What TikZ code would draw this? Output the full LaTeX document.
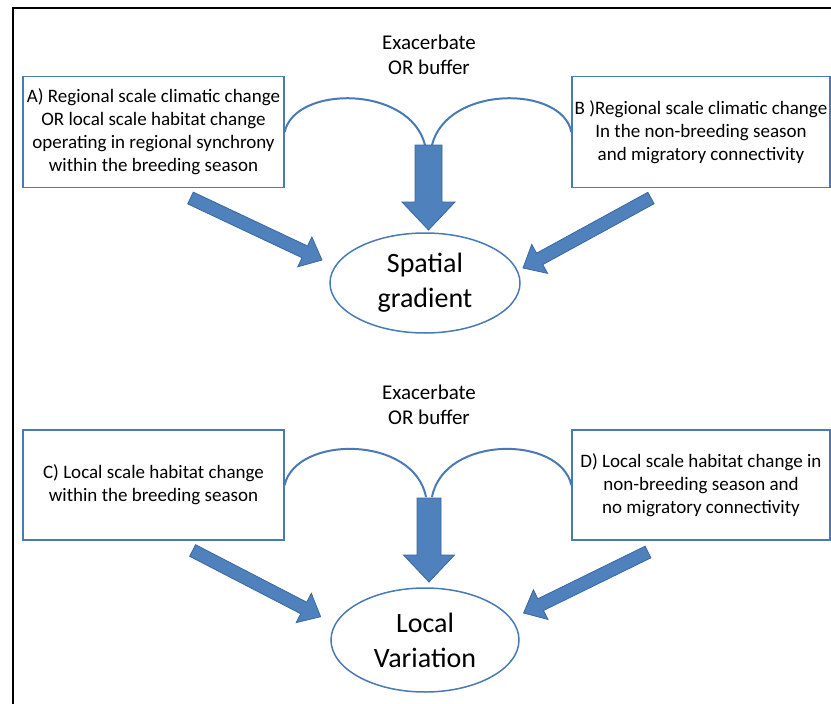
\documentclass[tikz,border=0pt]{standalone}
\usepackage{fontspec}
\setmainfont{Carlito}
\usetikzlibrary{calc,shapes.geometric}
\definecolor{bl}{HTML}{4F81BD}
\definecolor{bldark}{HTML}{3A67A3}
\definecolor{boxline}{HTML}{4A7AB5}
\newcommand\blockarr[5]{%
  \coordinate (hb) at ($(#2)!#5!(#1)$);
  \filldraw[barrow] ($(#1)!#3!90:(#2)$) -- ($(hb)!#3!90:(#2)$) -- ($(hb)!#4!90:(#2)$)
    -- (#2) -- ($(hb)!#4!-90:(#2)$) -- ($(hb)!#3!-90:(#2)$) -- ($(#1)!#3!-90:(#2)$) -- cycle;}
\begin{document}
\begin{tikzpicture}[x=1pt,y=-1pt,
  box/.style={draw=boxline, line width=1.3pt, minimum width=261pt, minimum height=111pt,
    align=center, font=\fontsize{19}{23}\selectfont, inner sep=0pt},
  ell/.style={ellipse, draw=boxline, line width=1.5pt, minimum width=190pt, minimum height=100pt,
    align=center, font=\fontsize{28}{35}\selectfont, inner sep=0pt},
  lbl/.style={align=center, font=\fontsize{21}{25}\selectfont},
  arcline/.style={draw=boxline, line width=2pt},
  barrow/.style={fill=bl, draw=bldark, line width=0.8pt, line join=miter}]
\useasboundingbox (0,0) rectangle (831,704);
\draw[line width=2.5pt] (13,720) -- (13,8) -- (840,8);

% top part
\node[lbl] (t1) at (429,55) {Exacerbate\\OR buffer};
\node[box] (A) at (153.5,132) {A) Regional scale climatic change\\OR local scale habitat change\\operating in regional synchrony\\within the breeding season};
\node[box, minimum width=258pt] (B) at (701,132) {B )Regional scale climatic change\\In the non-breeding season\\and migratory connectivity};
\node[ell] (S) at (425,283) {Spatial\\gradient};

\coordinate (s1) at (425,145);
\coordinate (s2) at (432,145);
\draw[arcline] (A.east) .. controls (295,85) and (410,85) .. (s1);
\draw[arcline] (s2) .. controls (447,85) and (562,85) .. (B.west);

\coordinate (vt) at (428.5,145);
\coordinate (vh) at (428.5,230);
\blockarr{vt}{vh}{13.5pt}{26.5pt}{28pt}

\coordinate (ta) at (190.5,198);
\coordinate (ha) at (322,260);
\blockarr{ta}{ha}{6.5pt}{16.5pt}{19pt}
\coordinate (tb) at (651,198);
\coordinate (hbb) at (523,268);
\blockarr{tb}{hbb}{6.5pt}{16.5pt}{19pt}

% bottom part
\node[lbl] (t2) at (429,405) {Exacerbate\\OR buffer};
\node[box, minimum height=110pt] (C) at (153.5,485) {C) Local scale habitat change\\within the breeding season};
\node[box, minimum width=258pt, minimum height=110pt] (D) at (701,485) {D) Local scale habitat change in\\non-breeding season and\\no migratory connectivity};
\node[ell, minimum width=188pt, minimum height=104pt] (L) at (425,640) {Local\\Variation};

\coordinate (l1) at (426,497);
\coordinate (l2) at (432,497);
\draw[arcline] (C.east) .. controls (296,435) and (414,435) .. (l1);
\draw[arcline] (l2) .. controls (444,435) and (560,435) .. (D.west);

\coordinate (wt) at (429,498);
\coordinate (wh) at (429,582);
\blockarr{wt}{wh}{12pt}{25.5pt}{27pt}

\coordinate (tc) at (192.6,550.5);
\coordinate (hc) at (320.6,616.7);
\blockarr{tc}{hc}{6.5pt}{16.5pt}{19pt}
\coordinate (td) at (648,552);
\coordinate (hd) at (523.6,613);
\blockarr{td}{hd}{6.5pt}{16.5pt}{19pt}
\end{tikzpicture}
\end{document}
